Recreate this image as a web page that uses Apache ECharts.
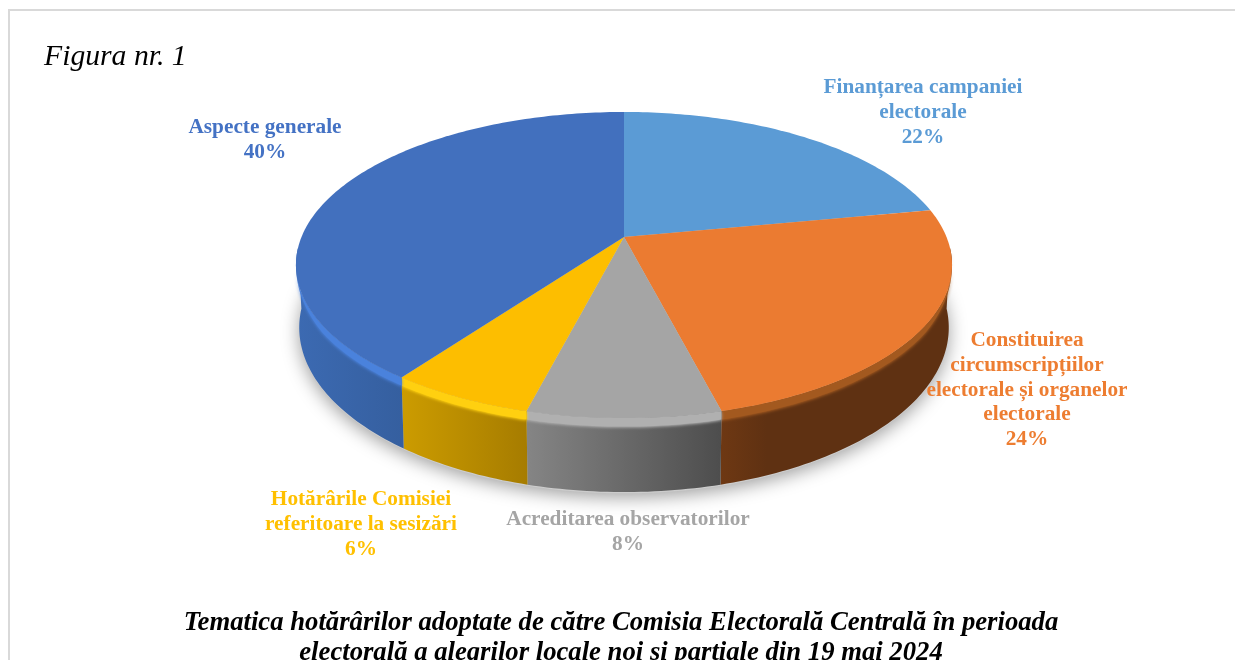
<!DOCTYPE html>
<html><head><meta charset="utf-8">
<style>html,body{margin:0;padding:0;background:#fff}#c{width:1235px;height:660px}</style>
<script src="https://cdn.jsdelivr.net/npm/echarts@6/dist/echarts.min.js"></script>
</head><body><div id="c"></div>
<script>
const categories = ['Finanțarea campaniei\nelectorale','Constituirea\ncircumscripțiilor\nelectorale și organelor\nelectorale','Acreditarea observatorilor','Hotărârile Comisiei\nreferitoare la sesizări','Aspecte generale'];
const values = [22,24,8,6,40];
const topColors = ['#5b9bd5','#eb7b31','#a5a5a5','#fdbe00','#4270be'];
const labelColors = ['#5b9bd5','#ed7d31','#a5a5a5','#ffc000','#4472c4'];
const rimColors = ['#5b9bd5','#a3591f','#b0b0b0','#ffd010','#4a82dc'];
const wallStops = [
  [[0,'#4a7fb0'],[1,'#4a7fb0']],
  [[0,'#6e3813'],[0.2,'#5f3112'],[1,'#5f3112']],
  [[0,'#858585'],[1,'#4d4d4d']],
  [[0,'#cc9c00'],[1,'#a67c00']],
  [[0,'#3c6ab2'],[1,'#355f9f']]
];
const labelAnchors = [[923,88],[1027,341],[628,520],[361,500],[265,128]];

const CX=624, CY=237, A=322.5, B=147.9, P=0.183, H=60.5, SHRINK=0.01;
const WALL_FROM=94, WALL_TO=266, RIM=7, RIM_FADE=28;
const total = values.reduce((a,b)=>a+b,0);
function proj(deg,depth){
  const t=deg*Math.PI/180, u=Math.sin(t), v=Math.cos(t), w=1+P*v;
  const s=1-SHRINK*depth/H;
  return [CX+s*A*u/w, CY+(-B*v+depth)/w];
}
function arc(a0,a1,depth){const n=Math.max(2,Math.ceil(Math.abs(a1-a0)));const out=[];for(let i=0;i<=n;i++)out.push(proj(a0+(a1-a0)*i/n,depth));return out;}
function rimDepth(deg){return RIM*Math.min(1,Math.max(0,Math.min(deg-WALL_FROM,WALL_TO-deg))/RIM_FADE);}
function rimArc(a0,a1){const n=Math.max(2,Math.ceil(a0>a1?a0-a1:a1-a0));const out=[];for(let i=0;i<=n;i++){const d=a0+(a1-a0)*i/n;out.push(proj(d,rimDepth(d)));}return out;}
function range(i){let s=0;for(let k=0;k<i;k++)s+=values[k];return [s/total*360,(s+values[i])/total*360];}

const chart=echarts.init(document.getElementById('c'),null,{renderer:'canvas'});
const data=values.map((v,i)=>({name:categories[i],value:[v,i]}));

function renderShadow(params,api){
  if(params.dataIndex!==0) return null;
  return {type:'polygon',shape:{points:arc(0,360,H+1)},style:{fill:'#ccc',shadowBlur:18,shadowColor:'rgba(0,0,0,0.38)',shadowOffsetY:4}};
}
function renderWall(params,api){
  const i=api.value(1), r=range(i);
  const a0=Math.max(r[0],WALL_FROM), a1=Math.min(r[1],WALL_TO);
  if(a1<=a0) return null;
  const pts=arc(a0,a1,0).concat(arc(a1,a0,H));
  const xs=pts.map(p=>p[0]);
  const fill=new echarts.graphic.LinearGradient(Math.min(...xs),0,Math.max(...xs),0,
    wallStops[i].map(s=>({offset:s[0],color:s[1]})),true);
  const children=[{type:'polygon',shape:{points:pts},style:{fill:fill}}];
  children.push({type:'polygon',shape:{points:arc(a0,a1,0).concat(rimArc(a1,a0))},style:{fill:rimColors[i],shadowBlur:3,shadowColor:rimColors[i],shadowOffsetY:1}});
  return {type:'group',children};
}
function renderTop(params,api){
  const i=api.value(1), r=range(i);
  const pts=[[CX,CY]].concat(arc(r[0],r[1],0));
  return {type:'polygon',shape:{points:pts},style:{fill:topColors[i]}};
}
function renderLabel(params,api){
  const i=api.value(1), a=labelAnchors[i];
  return {type:'text',x:a[0],y:a[1]-13,style:{text:categories[i]+'\n'+api.value(0)+'%',align:'center',verticalAlign:'top',
    fill:labelColors[i],font:'bold 21.3px "Liberation Serif"',lineHeight:24.8}};
}
chart.setOption({
  animation:false,
  backgroundColor:'#fff',
  title:[
    {text:'Figura nr. 1',left:39,top:37,textStyle:{fontFamily:'Liberation Serif',fontStyle:'italic',fontWeight:'normal',fontSize:29.7,color:'#000'}},
    {text:'Tematica hotărârilor adoptate de către Comisia Electorală Centrală în perioada\nelectorală a alegrilor locale noi și parțiale din 19 mai 2024',left:616,textAlign:'center',top:603,
     textStyle:{fontFamily:'Liberation Serif',fontStyle:'italic',fontWeight:'bold',fontSize:26.7,lineHeight:30,color:'#000',align:'center'}}
  ],
  graphic:[{type:'polyline',silent:true,z:-1,shape:{points:[[9,660],[9,10],[1235,10]]},style:{fill:null,stroke:'#d9d9d9',lineWidth:2}}],
  series:[
    {type:'custom',coordinateSystem:'none',renderItem:renderShadow,data,z:1,silent:true},
    {type:'custom',coordinateSystem:'none',renderItem:renderWall,data,z:2,silent:true},
    {type:'custom',coordinateSystem:'none',renderItem:renderTop,data,z:3},
    {type:'custom',coordinateSystem:'none',renderItem:renderLabel,data,z:4,silent:true}
  ]
});
</script></body></html>
